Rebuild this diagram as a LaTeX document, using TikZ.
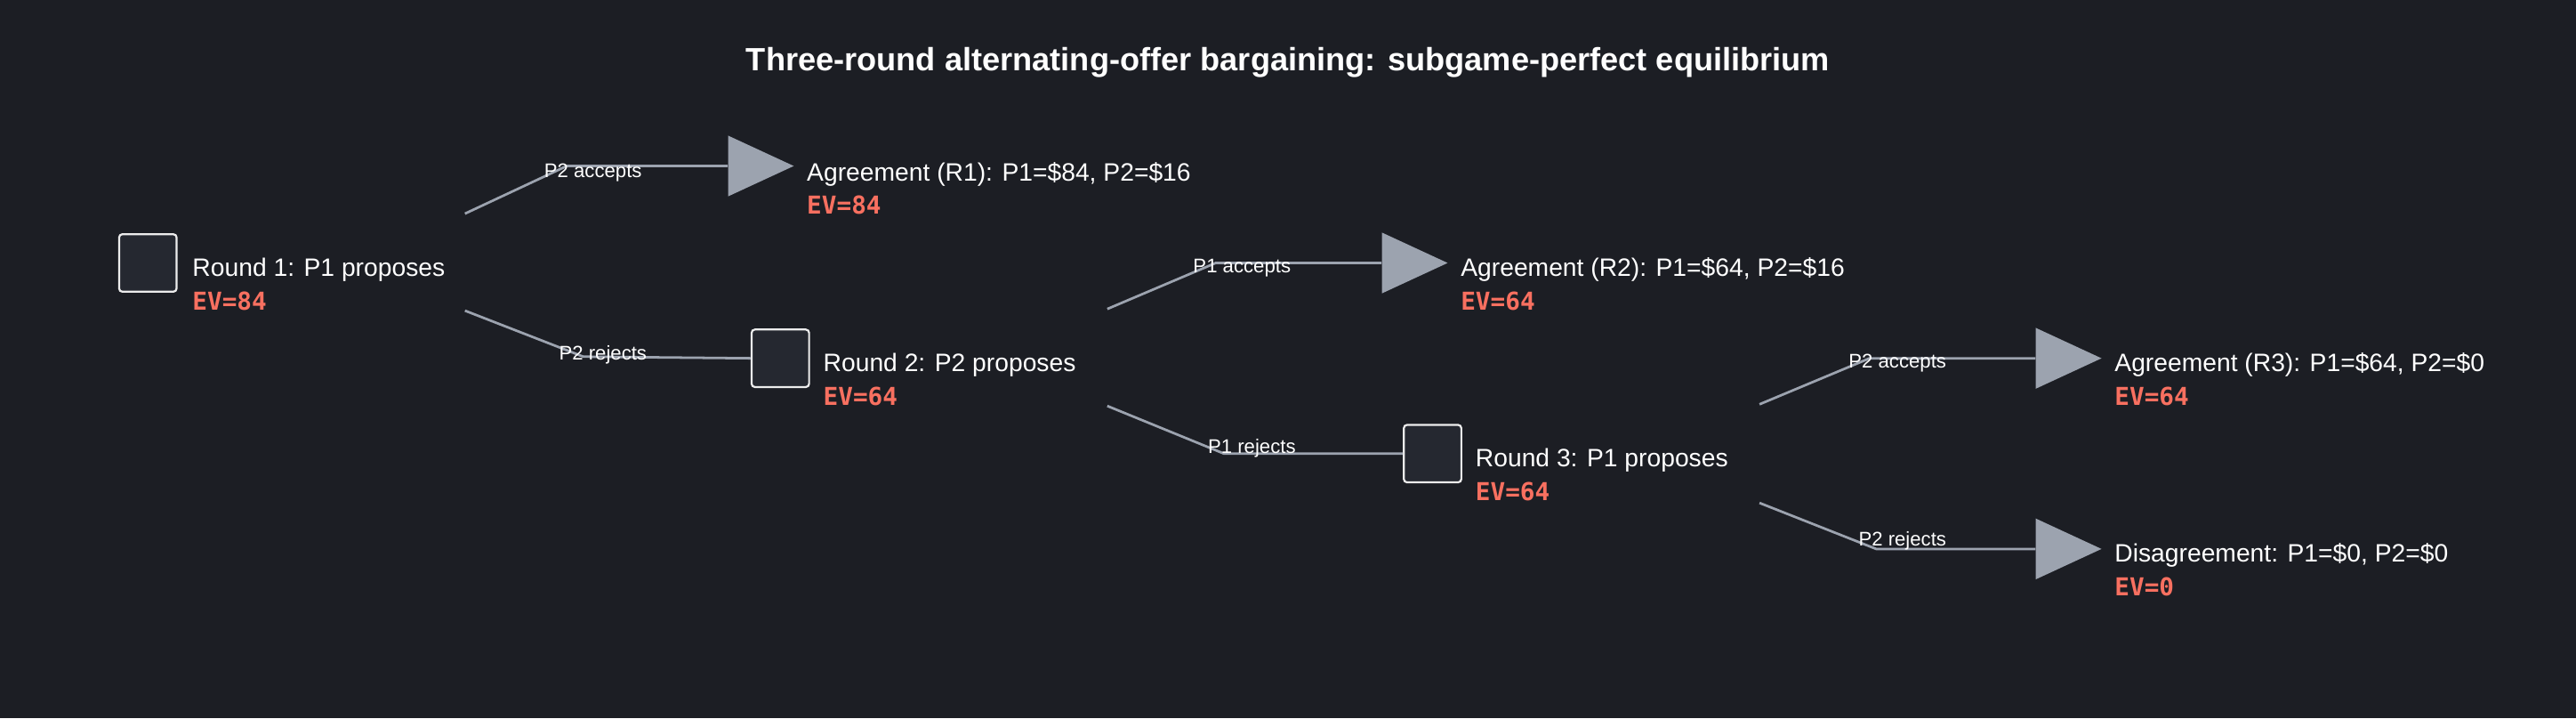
\documentclass[tikz,border=0pt]{standalone}
\usepackage{fontspec}
\setmainfont{Liberation Sans}
\newfontfamily\evfont{DejaVu Sans Mono}
\usetikzlibrary{shapes.geometric,positioning}
\definecolor{bgcol}{HTML}{1C1E24}
\definecolor{boxcol}{HTML}{252830}
\definecolor{edgecol}{HTML}{9CA3AF}
\definecolor{evcol}{HTML}{F87060}

\tikzset{
  decision/.style={draw=white!85!gray, fill=boxcol, rounded corners=2pt, line width=1.2pt,
                   minimum size=35pt, inner sep=0pt},
  leaf/.style={isosceles triangle, isosceles triangle stretches, fill=edgecol,
               minimum height=40pt, minimum width=37pt, inner sep=0pt},
  edge/.style={draw=edgecol, line width=1.5pt},
  elabel/.style={text=white, font=\fontsize{12}{14}\selectfont, inner sep=0pt},
  ntext/.style={text=white, font=\fontsize{15.3}{17}\selectfont, anchor=west, inner sep=0pt},
  ev/.style={text=evcol, font=\evfont\bfseries\fontsize{15}{17}\selectfont, anchor=west, inner sep=0pt}
}

\begin{document}
\begin{tikzpicture}[x=1pt,y=-1pt]
\fill[bgcol] (0,0) rectangle (1568,437);
\useasboundingbox (0,0) rectangle (1568,437);
\node[text=white, font=\bfseries\fontsize{19.6}{22}\selectfont] (title) at (784,38)
  {Three-round alternating-offer bargaining: subgame-perfect equilibrium};

% decision nodes
\node[decision] (r1) at (90,160) {};
\node[decision] (r2) at (475,218) {};
\node[decision] (r3) at (872,276) {};
\node[ntext] (r1t) at (117,164) {Round 1: P1 proposes};
\node[ev] (r1v) at (117,183) {EV=84};
\node[ntext] (r2t) at (501,222) {Round 2: P2 proposes};
\node[ev] (r2v) at (501,241) {EV=64};
\node[ntext] (r3t) at (898,280) {Round 3: P1 proposes};
\node[ev] (r3v) at (898,299) {EV=64};

% terminal nodes
\node[leaf] (a1) at (455,101) {};
\node[leaf] (a2) at (853,160) {};
\node[leaf] (a3) at (1251,218) {};
\node[leaf] (d3) at (1251,334) {};
\node[ntext] (a1t) at (491,106) {Agreement (R1): P1=\$84, P2=\$16};
\node[ev] (a1v) at (491,125) {EV=84};
\node[ntext] (a2t) at (889,164) {Agreement (R2): P1=\$64, P2=\$16};
\node[ev] (a2v) at (889,183) {EV=64};
\node[ntext] (a3t) at (1287,222) {Agreement (R3): P1=\$64, P2=\$0};
\node[ev] (a3v) at (1287,241) {EV=64};
\node[ntext] (d3t) at (1287,338) {Disagreement: P1=\$0, P2=\$0};
\node[ev] (d3v) at (1287,357) {EV=0};

% edges
\coordinate (s1a) at (283,130); \coordinate (b1a) at (345,101);
\coordinate (s1r) at (283,189); \coordinate (b1r) at (355,217);
\coordinate (s2a) at (674,188); \coordinate (b2a) at (740,160);
\coordinate (s2r) at (674,247); \coordinate (b2r) at (745,276);
\coordinate (s3a) at (1071,246); \coordinate (b3a) at (1138,218);
\coordinate (s3r) at (1071,306); \coordinate (b3r) at (1142,334);
\draw[edge] (s1a) -- (b1a) -- (a1.west);
\draw[edge] (s1r) -- (b1r) -- (r2.west);
\draw[edge] (s2a) -- (b2a) -- (a2.west);
\draw[edge] (s2r) -- (b2r) -- (r3.west);
\draw[edge] (s3a) -- (b3a) -- (a3.west);
\draw[edge] (s3r) -- (b3r) -- (d3.west);

\node[elabel] (l1a) at (361,105) {P2 accepts};
\node[elabel] (l1r) at (367,216) {P2 rejects};
\node[elabel] (l2a) at (756,163) {P1 accepts};
\node[elabel] (l2r) at (762,273) {P1 rejects};
\node[elabel] (l3a) at (1155,221) {P2 accepts};
\node[elabel] (l3r) at (1158,329) {P2 rejects};
\end{tikzpicture}
\end{document}
